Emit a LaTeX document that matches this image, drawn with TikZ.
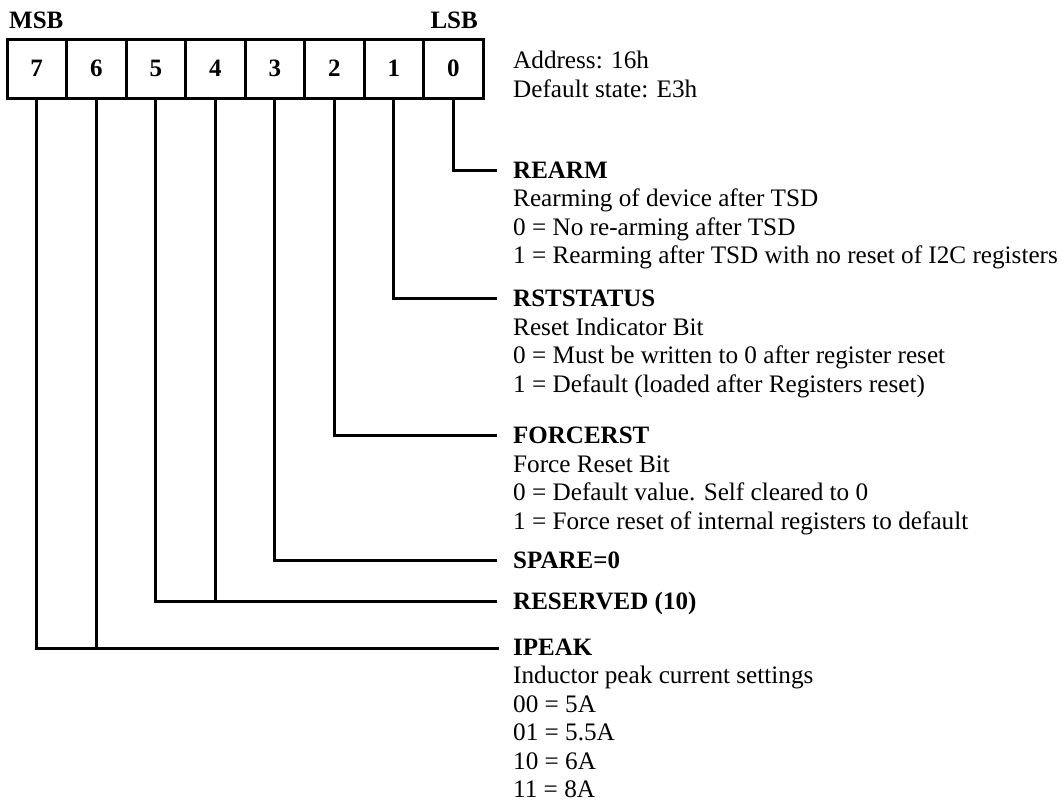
\documentclass[tikz,border=0pt]{standalone}
\usepackage{fontspec}
\setmainfont{Liberation Serif}
\begin{document}
\begin{tikzpicture}[x=1pt,y=-1pt,
  wire/.style={line width=3pt},
  cell/.style={draw,line width=3pt,minimum width=59.5pt,minimum height=59pt,inner sep=0pt,
    font=\fontsize{25}{28.5}\selectfont\bfseries},
  hd/.style={anchor=base west,inner sep=0pt,font=\fontsize{25}{28.5}\selectfont\bfseries},
  tx/.style={anchor=base west,inner sep=0pt,font=\fontsize{25.2}{28.5}\selectfont}]
\useasboundingbox (0,0) rectangle (1063,809);
% register cells
\foreach \i in {0,...,7}{
  \node[cell] (c\i) at ({36.75+59.5*(7-\i)},68.5) {\i};
}
\node[hd,anchor=base west] (msb) at (9,28) {MSB};
\node[hd,anchor=base east] (lsb) at (478,28) {LSB};
\node[tx] (addr) at (513,68) {Address: 16h};
\node[tx] (dflt) at (513,97) {Default state: E3h};
% end points of connectors
\coordinate (e0) at (497,170);
\coordinate (e1) at (497,298);
\coordinate (e2) at (497,435);
\coordinate (e3) at (497,560);
\coordinate (e54) at (497,601);
\coordinate (e76) at (499,648);
% connectors
\draw[wire] (c0.south) |- (e0);
\draw[wire] (c1.south) |- (e1);
\draw[wire] (c2.south) |- (e2);
\draw[wire] (c3.south) |- (e3);
\draw[wire] (c5.south) |- (e54);
\draw[wire] (c4.south) -- (c4.south |- e54);
\draw[wire] (c7.south) |- (e76);
\draw[wire] (c6.south) -- (c6.south |- e76);
% REARM
\node[hd] (rearm) at (513,178) {REARM};
\node[tx] (rearm1) at (513,206.5) {Rearming of device after TSD};
\node[tx] (rearm2) at (513,235) {0 = No re-arming after TSD};
\node[tx] (rearm3) at (513,263.5) {1 = Rearming after TSD with no reset of I2C registers};
% RSTSTATUS
\node[hd] (rst) at (513,306) {RSTSTATUS};
\node[tx] (rst1) at (513,335) {Reset Indicator Bit};
\node[tx] (rst2) at (513,363.5) {0 = Must be written to 0 after register reset};
\node[tx] (rst3) at (513,392) {1 = Default (loaded after Registers reset)};
% FORCERST
\node[hd] (frc) at (513,443) {FORCERST};
\node[tx] (frc1) at (513,472) {Force Reset Bit};
\node[tx] (frc2) at (513,500.5) {0 = Default value. Self cleared to 0};
\node[tx] (frc3) at (513,529) {1 = Force reset of internal registers to default};
% SPARE, RESERVED
\node[hd] (spare) at (513,568) {SPARE=0};
\node[hd] (resv) at (513,609) {RESERVED (10)};
% IPEAK
\node[hd] (ipeak) at (513,655.5) {IPEAK};
\node[tx] (ip1) at (513,683.5) {Inductor peak current settings};
\node[tx] (ip2) at (513,712) {00 = 5A};
\node[tx] (ip3) at (513,740.5) {01 = 5.5A};
\node[tx] (ip4) at (513,769) {10 = 6A};
\node[tx] (ip5) at (513,797.5) {11 = 8A};
\end{tikzpicture}
\end{document}
